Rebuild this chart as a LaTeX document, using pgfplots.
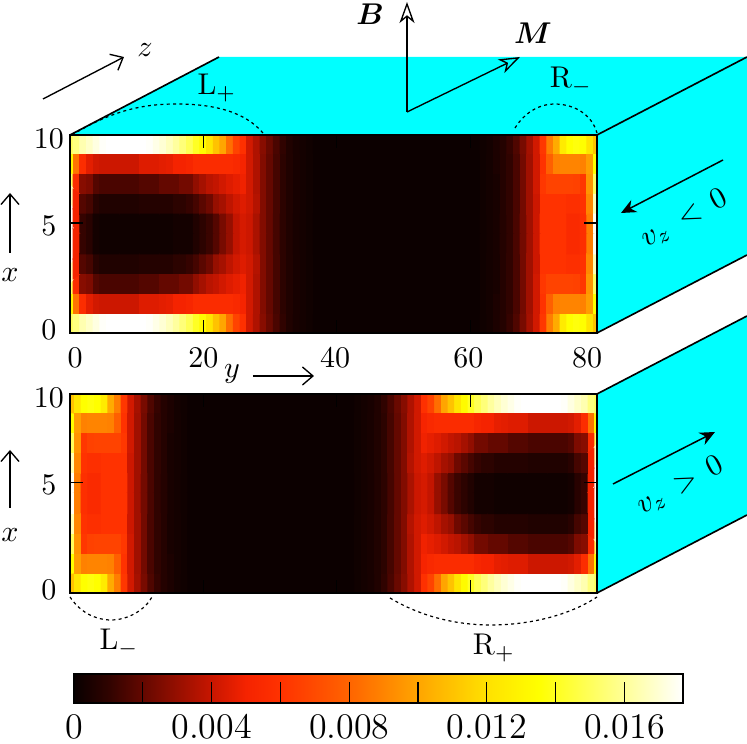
\documentclass[border=0pt]{standalone}
\usepackage{amsmath,amssymb,bm}
\usepackage{pgfplots}
\usepackage{pgfplotstable}
\pgfplotsset{compat=1.18}
\usetikzlibrary{arrows.meta}

\definecolor{facecyan}{RGB}{0,255,255}

\pgfplotsset{
  colormap={heat}{
    rgb255(0)=(8,0,0); rgb255(10)=(48,3,0); rgb255(20)=(100,8,0); rgb255(30)=(150,15,0);
    rgb255(40)=(200,22,0); rgb255(50)=(245,35,0); rgb255(60)=(255,50,0);
    rgb255(80)=(255,100,0); rgb255(100)=(255,165,0); rgb255(120)=(255,225,0);
    rgb255(135)=(255,255,0); rgb255(177)=(255,255,255)
  },
  panel/.style={
    scale only axis,
    width=175.67pt,
    anchor=south west,
    xmin=0, xmax=79, ymin=0, ymax=9,
    xtick={0,20,40,60,79},
    ytick={0,5,9},
    yticklabels={\raisebox{1pt}[\height][0pt]{0},\raisebox{-0.7pt}[\height][0pt]{5},\raisebox{-1.1pt}[\height][0pt]{10}},
    tick align=inside,
    major tick length=4.33pt,
    tick style={black,line width=0.4pt},
    axis line style={line width=0.8pt},
    axis on top,
    colormap name=heat,
    point meta min=0, point meta max=0.0177,
    yticklabel style={anchor=center,xshift=-7pt,inner sep=0pt},
    xticklabel style={yshift=-1.2pt},
  },
  cells/.style={matrix plot*, mesh/cols=80, point meta=explicit},
}

% five rows from the top edge to the middle; the rows below mirror them
\pgfplotstableread[row sep=\\,header=false]{
0.0150\\0.0156\\0.0164\\0.0168\\0.0172\\0.0176\\0.0180\\0.0180\\0.0180\\0.0180\\
0.0180\\0.0178\\0.0176\\0.0173\\0.0170\\0.0166\\0.0161\\0.0155\\0.0149\\0.0141\\
0.0133\\0.0122\\0.0110\\0.0100\\0.0083\\0.0067\\0.0059\\0.0042\\0.0035\\0.0027\\
0.0021\\0.0015\\0.0010\\0.0006\\0.0004\\0.0003\\0.0002\\0.0001\\0.0001\\0.0001\\
0.0001\\0.0001\\0.0001\\0.0001\\0.0001\\0.0001\\0.0001\\0.0001\\0.0001\\0.0001\\
0.0001\\0.0001\\0.0001\\0.0001\\0.0001\\0.0001\\0.0001\\0.0001\\0.0001\\0.0001\\
0.0001\\0.0001\\0.0002\\0.0003\\0.0005\\0.0007\\0.0011\\0.0016\\0.0024\\0.0033\\
0.0042\\0.0062\\0.0088\\0.0102\\0.0125\\0.0135\\0.0137\\0.0135\\0.0122\\0.0110\\
0.0130\\0.0085\\0.0057\\0.0046\\0.0042\\0.0041\\0.0041\\0.0041\\0.0041\\0.0041\\
0.0041\\0.0045\\0.0045\\0.0045\\0.0046\\0.0047\\0.0050\\0.0050\\0.0052\\0.0056\\
0.0056\\0.0056\\0.0056\\0.0056\\0.0056\\0.0054\\0.0051\\0.0042\\0.0035\\0.0026\\
0.0020\\0.0014\\0.0009\\0.0006\\0.0004\\0.0003\\0.0002\\0.0001\\0.0001\\0.0001\\
0.0001\\0.0001\\0.0001\\0.0001\\0.0001\\0.0001\\0.0001\\0.0001\\0.0001\\0.0001\\
0.0001\\0.0001\\0.0001\\0.0001\\0.0001\\0.0001\\0.0001\\0.0001\\0.0001\\0.0001\\
0.0001\\0.0001\\0.0002\\0.0003\\0.0005\\0.0007\\0.0010\\0.0015\\0.0023\\0.0032\\
0.0042\\0.0060\\0.0078\\0.0089\\0.0090\\0.0090\\0.0090\\0.0089\\0.0098\\0.0135\\
0.0150\\0.0056\\0.0027\\0.0025\\0.0017\\0.0015\\0.0015\\0.0015\\0.0015\\0.0015\\
0.0015\\0.0017\\0.0017\\0.0017\\0.0020\\0.0020\\0.0020\\0.0023\\0.0023\\0.0029\\
0.0033\\0.0037\\0.0039\\0.0042\\0.0045\\0.0047\\0.0049\\0.0042\\0.0035\\0.0026\\
0.0020\\0.0014\\0.0009\\0.0006\\0.0004\\0.0003\\0.0002\\0.0001\\0.0001\\0.0001\\
0.0001\\0.0001\\0.0001\\0.0001\\0.0001\\0.0001\\0.0001\\0.0001\\0.0001\\0.0001\\
0.0001\\0.0001\\0.0001\\0.0001\\0.0001\\0.0001\\0.0001\\0.0001\\0.0001\\0.0001\\
0.0001\\0.0001\\0.0002\\0.0003\\0.0004\\0.0007\\0.0010\\0.0015\\0.0023\\0.0032\\
0.0042\\0.0062\\0.0067\\0.0067\\0.0067\\0.0067\\0.0066\\0.0062\\0.0095\\0.0150\\
0.0165\\0.0051\\0.0017\\0.0014\\0.0008\\0.0006\\0.0006\\0.0006\\0.0006\\0.0006\\
0.0006\\0.0007\\0.0007\\0.0007\\0.0007\\0.0007\\0.0009\\0.0009\\0.0011\\0.0014\\
0.0018\\0.0022\\0.0030\\0.0033\\0.0038\\0.0042\\0.0045\\0.0042\\0.0036\\0.0026\\
0.0020\\0.0014\\0.0009\\0.0006\\0.0004\\0.0003\\0.0002\\0.0001\\0.0001\\0.0001\\
0.0001\\0.0001\\0.0001\\0.0001\\0.0001\\0.0001\\0.0001\\0.0001\\0.0001\\0.0001\\
0.0001\\0.0001\\0.0001\\0.0001\\0.0001\\0.0001\\0.0001\\0.0001\\0.0001\\0.0001\\
0.0001\\0.0001\\0.0002\\0.0003\\0.0004\\0.0007\\0.0010\\0.0015\\0.0023\\0.0032\\
0.0041\\0.0060\\0.0060\\0.0060\\0.0060\\0.0058\\0.0058\\0.0060\\0.0091\\0.0165\\
0.0175\\0.0050\\0.0011\\0.0008\\0.0003\\0.0002\\0.0002\\0.0002\\0.0002\\0.0002\\
0.0002\\0.0002\\0.0002\\0.0002\\0.0002\\0.0002\\0.0003\\0.0003\\0.0003\\0.0006\\
0.0009\\0.0012\\0.0017\\0.0024\\0.0030\\0.0039\\0.0043\\0.0041\\0.0034\\0.0026\\
0.0020\\0.0014\\0.0009\\0.0006\\0.0004\\0.0003\\0.0002\\0.0001\\0.0001\\0.0001\\
0.0001\\0.0001\\0.0001\\0.0001\\0.0001\\0.0001\\0.0001\\0.0001\\0.0001\\0.0001\\
0.0001\\0.0001\\0.0001\\0.0001\\0.0001\\0.0001\\0.0001\\0.0001\\0.0001\\0.0001\\
0.0001\\0.0001\\0.0002\\0.0003\\0.0004\\0.0007\\0.0010\\0.0015\\0.0023\\0.0032\\
0.0041\\0.0060\\0.0060\\0.0060\\0.0060\\0.0055\\0.0055\\0.0058\\0.0088\\0.0175\\
}\halfpanel
% x and y come from expressions, but the plot still wants a second column
\pgfplotstablecreatecol[create col/set={0}]{spare}\halfpanel

\begin{document}
\begin{tikzpicture}
\useasboundingbox (0,0) rectangle (249pt,-248pt);

% box faces, in pixels of the reference
\begin{scope}[x=0.33333pt,y=-0.33333pt]
\fill[facecyan] (70,135) -- (219,57) -- (747,57) -- (747,255) -- (597,333) -- (597,135) -- cycle;
\fill[facecyan] (597,394) -- (747,316) -- (747,515) -- (597,593) -- cycle;
\draw[line width=0.55pt] (70,135) -- (219,57);
\draw[line width=0.55pt] (597,135) -- (747,57);
\draw[line width=0.55pt] (597,333) -- (747,255);
\draw[line width=0.55pt] (597,394) -- (747,316);
\draw[line width=0.55pt] (597,593) -- (747,515);
\end{scope}

\begin{axis}[panel, at={(23.33pt,-111pt)}, height=66pt,
    xticklabels={\hspace{3.4pt}0,20,40\rule{1.2pt}{0pt},60\rule{1.3pt}{0pt},80\rule{6.6pt}{0pt}}]
  \addplot[cells] table[meta index=0,
      x expr={mod(\coordindex,80)},
      y expr={8.55-0.9*floor(\coordindex/80)}] {\halfpanel};
  \addplot[cells] table[meta index=0,
      x expr={mod(\coordindex,80)},
      y expr={0.45+0.9*floor(\coordindex/80)}] {\halfpanel};
\end{axis}

\begin{axis}[panel, at={(23.33pt,-197.67pt)}, height=66.33pt,
    xticklabels={},
    colorbar horizontal,
    colorbar style={
      at={(0.0076,-0.5528)}, anchor=south west,
      scale only axis, width=203pt, height=9.67pt,
      xmin=0, xmax=0.0177,
      xtick={0,0.002,0.004,0.006,0.008,0.010,0.012,0.014,0.016},
      xticklabels={0,,0.004,,0.008,,0.012,,0.016},
      scaled x ticks=false,
      xtick pos=lower,
      tick align=inside,
      major tick length=7pt,
      xticklabel style={font=\large,inner sep=0pt,yshift=-3.6pt},
      axis line style={line width=0.6pt},
    }]
  \addplot[cells] table[meta index=0,
      x expr={79-mod(\coordindex,80)},
      y expr={8.55-0.9*floor(\coordindex/80)}] {\halfpanel};
  \addplot[cells] table[meta index=0,
      x expr={79-mod(\coordindex,80)},
      y expr={0.45+0.9*floor(\coordindex/80)}] {\halfpanel};
\end{axis}

\begin{scope}[x=0.33333pt,y=-0.33333pt]
% edge state brackets
\draw[line width=0.4pt,dash pattern=on 1pt off 1.1pt] (72,135) .. controls (110,112) and (140,104) .. (176,104) .. controls (215,104) and (245,112) .. (263,133);
\draw[line width=0.4pt,dash pattern=on 1pt off 1.1pt] (515,128) .. controls (525,112) and (540,104) .. (554,104) .. controls (575,104) and (592,115) .. (597,133);
\draw[line width=0.4pt,dash pattern=on 1pt off 1.1pt] (70,597) .. controls (80,612) and (95,620) .. (111,620) .. controls (128,620) and (145,610) .. (152,597);
\draw[line width=0.4pt,dash pattern=on 1pt off 1.1pt] (390,598) .. controls (420,616) and (455,625) .. (491,625) .. controls (530,625) and (570,615) .. (597,597);
\node at (217,88) {$\mathrm{L}_+$};
\node at (571,81) {$\mathrm{R}_-$};
\node at (119,643) {$\mathrm{L}_-$};
\node at (494,648) {$\mathrm{R}_+$};

% axes directions
\draw[line width=0.45pt,-{Straight Barb[length=3.5pt,width=6pt]}] (43,99) -- (124,57);
\node at (145,50) {$z$};
\draw[line width=0.45pt,-{Straight Barb[length=3.5pt,width=6pt]}] (10,253) -- (10,193);
\node at (10,275) {$x$};
\draw[line width=0.45pt,-{Straight Barb[length=3.5pt,width=6pt]}] (10,508) -- (10,450);
\node at (10,535) {$x$};
\draw[line width=0.45pt,-{Straight Barb[length=3.5pt,width=6pt]}] (253,376) -- (314,376);
\node at (232,374) {$y$};

% field and magnetisation
\draw[line width=0.45pt,-{Stealth[open,length=7pt,width=5pt,inset=2pt]}] (407,112) -- (407,2);
\draw[line width=0.45pt,-{Stealth[open,length=7pt,width=5pt,inset=2pt]}] (407,112) -- (520,57);
\node at (370,14) {$\boldsymbol{B}$};
\node at (533,33) {$\boldsymbol{M}$};

% velocity on the side faces
\draw[line width=0.5pt,-{Stealth[length=5pt,width=4.5pt]}] (723,160) -- (621,213);
\node[rotate=27.5] at (684,219) {$v_z\,<\,0$};
\draw[line width=0.5pt,-{Stealth[length=5pt,width=4.5pt]}] (613,484) -- (715,432);
\node[rotate=27.5] at (680,486) {$v_z\,>\,0$};
\end{scope}
\end{tikzpicture}
\end{document}
